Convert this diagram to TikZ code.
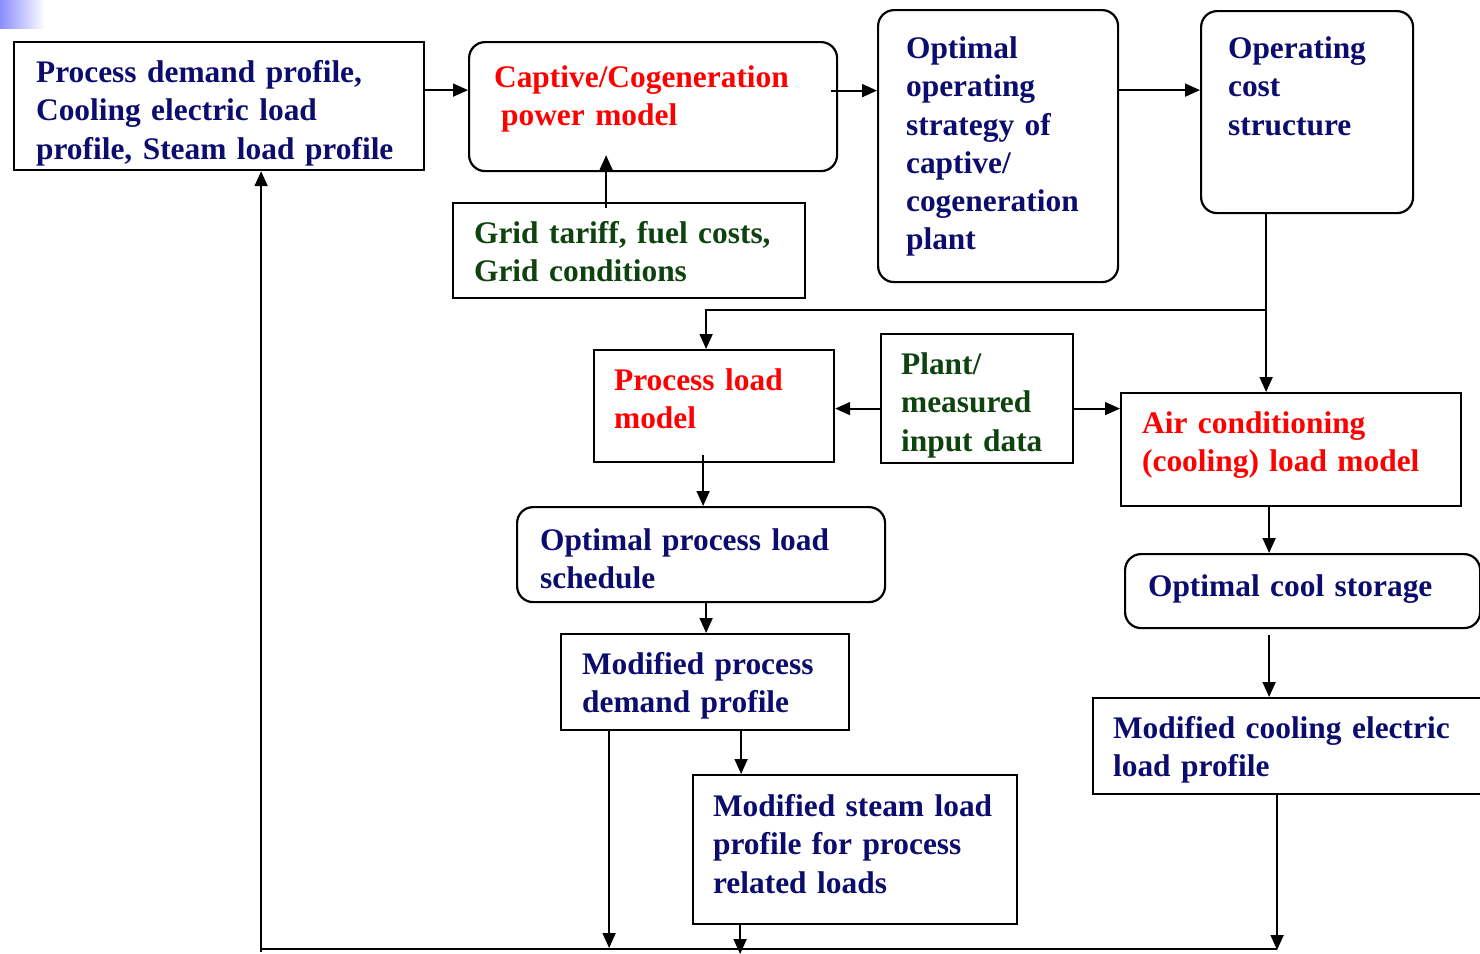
\documentclass[tikz,border=0pt]{standalone}
\usepackage{fontspec}
\setmainfont{Liberation Serif}
\usepackage{tikz}
\usetikzlibrary{positioning, arrows.meta}
\definecolor{navytext}{RGB}{12,12,110}
\definecolor{greentext}{RGB}{14,66,14}
\definecolor{redtext}{RGB}{255,0,0}
\tikzset{
  box/.style={draw, line width=1.1pt, anchor=north west, align=left, inner ysep=0pt,
    font=\bfseries\fontsize{15.7}{19.1}\selectfont},
  rbox/.style={box, rounded corners=8pt},
  tb/.style 2 args={text height=#1, text depth=#2},
  arr/.style={line width=0.9pt, -{Triangle[length=7.5pt,width=6.5pt]}},
  wire/.style={line width=0.9pt}
}
\begin{document}
\begin{tikzpicture}[x=0.5pt, y=-0.5pt]
        \useasboundingbox (0,0) rectangle (1480,954);
        % corner mark
        \shade[left color=blue!45!white, right color=white] (0,0) rectangle (45,28);
        % Top row
        \node[box, text=navytext, inner xsep=11pt, text width=183pt, tb={20.25pt}{43.75pt}] (demand) at (13,41)
            {Process demand profile,\\Cooling electric load\\profile, Steam load profile};
        \node[rbox, text=redtext, inner xsep=12.5pt, text width=159pt, tb={22.5pt}{42pt}] (captive) at (468,41)
            {Captive/Cogeneration\\\hspace{3.5pt}power model};
        \node[box, text=greentext, inner xsep=10.5pt, text width=155pt, tb={20pt}{27.5pt}] (grid) at (452,202)
            {Grid tariff, fuel costs,\\Grid conditions};
        \node[rbox, text=navytext, inner xsep=14pt, text width=92pt, tb={24.25pt}{111.75pt}] (optimal) at (877,9)
            {Optimal\\operating\\strategy of\\captive/\\cogeneration\\plant};
        \node[rbox, text=navytext, inner xsep=13.5pt, text width=79pt, tb={23.75pt}{77.25pt}] (operating) at (1200,10)
            {Operating\\cost\\structure};
        % Middle row
        \node[box, text=redtext, inner xsep=10pt, text width=100pt, tb={20.25pt}{35.75pt}] (procload) at (593,349)
            {Process load\\model};
        \node[box, text=greentext, inner xsep=10pt, text width=76pt, tb={20.25pt}{44.25pt}] (plant) at (880,333)
            {Plant/\\measured\\input data};
        \node[box, text=redtext, inner xsep=10.5pt, text width=149pt, tb={20.25pt}{36.25pt}] (aircon) at (1120,392)
            {Air conditioning\\(cooling) load model};
        % Lower part
        \node[rbox, text=navytext, inner xsep=11.5pt, text width=161pt, tb={21.75pt}{25.75pt}] (optproc) at (516,506)
            {Optimal process load\\schedule};
        \node[rbox, text=navytext, inner xsep=11.5pt, text width=154.5pt, tb={21.25pt}{15.75pt}] (coolstore) at (1124,553)
            {Optimal cool storage};
        \node[box, text=navytext, inner xsep=10.5pt, text width=123pt, tb={20.25pt}{27.75pt}] (modproc) at (560,633)
            {Modified process\\demand profile};
        \node[box, text=navytext, inner xsep=10pt, text width=175pt, tb={20.25pt}{27.75pt}] (modcool) at (1092,697)
            {Modified cooling electric\\load profile};
        \node[box, text=navytext, inner xsep=10pt, text width=142pt, tb={20.75pt}{53.75pt}] (modsteam) at (692,774)
            {\mbox{Modified steam load}\\profile for process\\related loads};
        \coordinate (base) at (0,949);
        % Arrows, top row
        \draw[arr] ([yshift=8pt]demand.east) coordinate (d1) -- (d1 -| captive.west);
        \draw[arr] ([yshift=8pt,xshift=-3.5pt]captive.east) coordinate (c1) -- (c1 -| optimal.west);
        \draw[arr] ([yshift=28pt]optimal.east) coordinate (s1) -- (s1 -| operating.west);
        \draw[arr] ([xshift=-11.5pt,yshift=-3pt]grid.north) coordinate (g1) -- ([yshift=8.5pt]g1 |- captive.south);
        % Operating cost to the two load models
        \draw[arr] ([xshift=-20.5pt,yshift=1pt]operating.south) coordinate (o1) -- (o1 |- aircon.north);
        \coordinate (split) at ([yshift=-49pt]o1);
        \draw[arr] (split) -| ([xshift=-4pt]procload.north);
        \draw[arr] ([yshift=-5pt]plant.west) coordinate (p1) -- (p1 -| procload.east);
        \draw[arr] ([yshift=-5pt]plant.east) coordinate (p2) -- (p2 -| aircon.west);
        % Process branch
        \draw[arr] ([xshift=-5.5pt,yshift=4pt]procload.south) coordinate (l1) -- (l1 |- optproc.north);
        \draw[arr] ([xshift=2.5pt]optproc.south) coordinate (l2) -- (l2 |- modproc.north);
        \draw[arr] ([xshift=18pt]modproc.south) coordinate (l3) -- (l3 |- modsteam.north);
        % Cooling branch
        \draw[arr] ([xshift=-11pt]aircon.south) coordinate (a1) -- (a1 |- coolstore.north);
        \draw[arr] ([xshift=-16.75pt,yshift=-3pt]coolstore.south) coordinate (a2) -- (a2 |- modcool.north);
        % Feedback to the demand profile
        \draw[arr] ([xshift=-5.5pt]modcool.south) coordinate (f1) -- ([yshift=-0.5pt]f1 |- base);
        \draw[arr] ([xshift=-48pt]modproc.south) coordinate (f2) -- ([yshift=0.5pt]f2 |- base);
        \draw[arr] ([xshift=-57.5pt]modsteam.south) coordinate (f3) -- ([yshift=-2.5pt]f3 |- base);
        \draw[wire] ([xshift=21pt]demand.south |- base) coordinate (f4) -- (f1 |- base);
        \draw[arr] ([yshift=-1.5pt]f4) -- (f4 |- demand.south);
\end{tikzpicture}
\end{document}
